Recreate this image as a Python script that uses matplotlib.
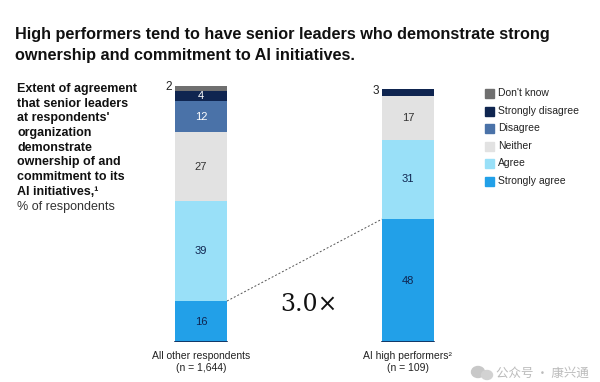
import matplotlib.pyplot as plt
from matplotlib.patches import Ellipse
import numpy as np

# data
groups = ["All other respondents\n(n = 1,644)", "AI high performers²\n(n = 109)"]
answers = ["Strongly agree", "Agree", "Neither", "Disagree", "Strongly disagree", "Don't know"]
other_resp = [16, 39, 27, 12, 4, 2]
high_perf = [48, 31, 17, 0, 3, 0]
colors = ["#22a0e8", "#99e0f8", "#e2e2e2", "#4a72a8", "#0f2550", "#6f6f6f"]
label_colors = ["#0f2550", "#0f2550", "#333333", "white", "white", "#333333"]
title_lines = ["High performers tend to have senior leaders who demonstrate strong",
               "ownership and commitment to AI initiatives."]
desc_lines = ["Extent of agreement", "that senior leaders", "at respondents'",
              "organization", "demonstrate", "ownership of and",
              "commitment to its", "AI initiatives,¹"]

plt.rcParams["font.family"] = ["Liberation Sans", "DejaVu Sans"]

fig = plt.figure(figsize=(6, 3.82), dpi=100)
ax = fig.add_axes([140 / 600, 40 / 382, 330 / 600, 256 / 382])

x = np.arange(len(groups))
width = 0.251
values = np.array([other_resp, high_perf])
bottoms = np.zeros(len(groups))
for i, ans in enumerate(answers):
    vals = values[:, i]
    ax.bar(x, vals, width, bottom=bottoms, color=colors[i], linewidth=0)
    for j in range(len(groups)):
        v = vals[j]
        if v == 0:
            continue
        if v <= 3:
            # small segments are labelled to the left of the bar
            ax.text(x[j] - width / 2 - 0.015, bottoms[j] + v / 2 + 0.5, str(v),
                    ha="right", va="center", fontsize=8.5, color="#222222")
        else:
            ax.text(x[j], bottoms[j] + v / 2, str(v), ha="center", va="center",
                    fontsize=8, color=label_colors[i])
    bottoms += vals

# baseline under each bar
for j in range(len(groups)):
    ax.plot([x[j] - width / 2, x[j] + width / 2], [0, 0], color="#0f2550", lw=1.2)

# dashed connector between strongly agree tops
ax.plot([x[0] + width / 2, x[1] - width / 2], [other_resp[0], high_perf[0]],
        ls=(0, (2, 2)), color="#555555", lw=0.7)
ax.text(0.52, 14.5, "3.0×", ha="center", va="center", fontsize=17,
        family="DejaVu Serif", color="#111111")

ax.set_xlim(-0.295, 1.30)
ax.set_ylim(0, 100)
ax.axis("off")

for j, g in enumerate(groups):
    ax.text(x[j], -3.5, g, ha="center", va="top", fontsize=7.5, color="#222222",
            linespacing=1.2)

# legend
leg_y = [93, 111, 128, 146, 163, 181]
for k, ans in enumerate(reversed(answers)):
    c = colors[len(answers) - 1 - k]
    yf = 1 - leg_y[k] / 382
    fig.patches.append(plt.Rectangle((485 / 600, yf - 4.5 / 382), 9 / 600, 9 / 382,
                                     transform=fig.transFigure, color=c))
    fig.text(498 / 600, yf, ans, ha="left", va="center", fontsize=7.5, color="#222222")

# title
for n, line in enumerate(title_lines):
    fig.text(15 / 600, 1 - (39 + 21 * n) / 382, line, ha="left", va="baseline",
             fontsize=11.7, fontweight="bold", color="#111111")

# left description, one line at a time
for n, line in enumerate(desc_lines):
    fig.text(17 / 600, 1 - (89 + 14.7 * n) / 382, line, ha="left", va="center",
             fontsize=9, fontweight="bold", color="#111111")
fig.text(17 / 600, 1 - 207 / 382, "% of respondents", ha="left", va="center",
         fontsize=9, color="#333333")

# watermark
fig.patches.append(Ellipse((478 / 600, 1 - 372 / 382), 13 / 600, 11 / 382,
                           transform=fig.transFigure, color="#c8c8c8"))
fig.patches.append(Ellipse((487 / 600, 1 - 375 / 382), 11 / 600, 9 / 382,
                           transform=fig.transFigure, color="#d2d2d2"))
fig.text(496 / 600, 1 - 373 / 382, "公众号 · 康兴通", ha="left", va="center",
         fontsize=9, color="#bbbbbb",
         family=["Noto Sans CJK SC", "DejaVu Sans"])

fig.savefig("out.png", dpi=100)
